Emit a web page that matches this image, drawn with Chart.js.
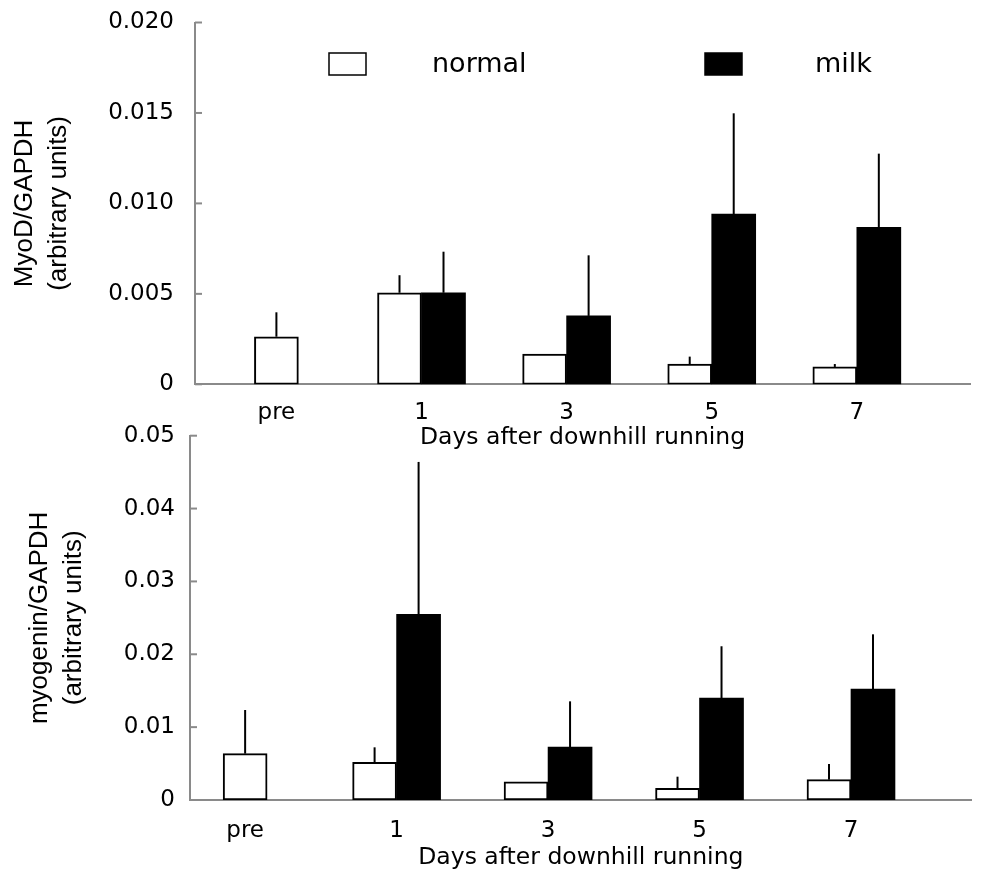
<!DOCTYPE html>
<html>
<head>
<meta charset="utf-8">
<title>MyoD and myogenin after downhill running</title>
<script src="https://cdn.jsdelivr.net/npm/chart.js@4.4.0/dist/chart.umd.min.js"></script>
<style>
    html, body { margin: 0; padding: 0; background: #fff; }
    body { width: 981px; height: 874px; position: relative; overflow: hidden; }
    .panel { position: absolute; left: 0; width: 981px; }
    #top-wrap { top: 0; height: 460px; }
    #bottom-wrap { top: 420px; height: 454px; }
</style>
</head>
<body>
<div class="panel" id="top-wrap"><canvas id="chart-myod" width="981" height="460"></canvas></div>
<div class="panel" id="bottom-wrap"><canvas id="chart-myogenin" width="981" height="454"></canvas></div>
<script>
const days = ['pre', '1', '3', '5', '7'];
const groupNames = ['normal', 'milk'];
const xTitle = 'Days after downhill running';

// MyoD/GAPDH (top panel): means and upward SD
const myodNormal = [0.00263, 0.00506, 0.00167, 0.00112, 0.00096];
const myodNormalSd = [0.00135, 0.00097, 0, 0.00041, 0.00016];
const myodMilk = [null, 0.00506, 0.00378, 0.00941, 0.00868];
const myodMilkSd = [null, 0.00227, 0.00335, 0.00557, 0.00407];

// myogenin/GAPDH (bottom panel)
const myogNormal = [0.00636, 0.00517, 0.00251, 0.0016, 0.00279];
const myogNormalSd = [0.00599, 0.00206, 0, 0.0016, 0.00215];
const myogMilk = [null, 0.02549, 0.00727, 0.014, 0.01523];
const myogMilkSd = [null, 0.02091, 0.00627, 0.0071, 0.00751];

const FONT = 'DejaVu Sans';
const TITLE_FONT = 'Liberation Sans';
const AXIS_GREY = '#8a8a8a';

// upward-only whiskers, no caps
const errorBars = {
    id: 'errorBars',
    afterDatasetsDraw(chart) {
        const { ctx } = chart;
        const yScale = chart.scales.y;
        ctx.save();
        ctx.strokeStyle = '#000';
        ctx.lineWidth = 2;
        chart.data.datasets.forEach((ds, i) => {
            const meta = chart.getDatasetMeta(i);
            meta.data.forEach((bar, j) => {
                const v = ds.data[j].y;
                const sd = ds.sd[j];
                if (v == null || !sd) return;
                ctx.beginPath();
                ctx.moveTo(bar.x, bar.y);
                ctx.lineTo(bar.x, yScale.getPixelForValue(v + sd));
                ctx.stroke();
            });
        });
        ctx.restore();
    }
};

// tick marks pointing into the plot
const innerTicks = {
    id: 'innerTicks',
    afterDraw(chart) {
        const { ctx } = chart;
        const yScale = chart.scales.y;
        ctx.save();
        ctx.strokeStyle = AXIS_GREY;
        ctx.lineWidth = 2;
        yScale.ticks.forEach((t, i) => {
            const py = yScale.getPixelForTick(i);
            ctx.beginPath();
            ctx.moveTo(yScale.right, py);
            ctx.lineTo(yScale.right + 7, py);
            ctx.stroke();
        });
        ctx.restore();
    }
};

const boxLegend = {
    id: 'boxLegend',
    afterDraw(chart, args, opts) {
        if (!opts.items) return;
        const { ctx } = chart;
        ctx.save();
        chart.data.datasets.forEach((ds, i) => {
            const it = opts.items[i];
            ctx.fillStyle = ds.backgroundColor;
            ctx.fillRect(it.boxX, opts.boxY, opts.boxW, opts.boxH);
            ctx.strokeStyle = '#000';
            ctx.lineWidth = 1.5;
            ctx.strokeRect(it.boxX, opts.boxY, opts.boxW, opts.boxH);
            ctx.fillStyle = '#000';
            ctx.font = opts.fontSize + 'px "' + FONT + '"';
            ctx.textBaseline = 'middle';
            ctx.textAlign = 'left';
            ctx.fillText(ds.label, it.textX, opts.boxY + opts.boxH / 2 + 1);
        });
        ctx.restore();
    }
};

function makeChart(id, normal, normalSd, milk, milkSd, cfg) {
    const toPoints = arr => arr.map((v, i) => ({ x: i, y: v }));

    return new Chart(document.getElementById(id), {
        type: 'bar',
        data: {
            datasets: [
                {
                    label: groupNames[0],
                    data: toPoints(normal),
                    sd: normalSd,
                    backgroundColor: '#ffffff',
                    borderColor: '#000000',
                    borderWidth: 2,
                    borderSkipped: false
                },
                {
                    label: groupNames[1],
                    data: toPoints(milk),
                    sd: milkSd,
                    backgroundColor: '#000000',
                    borderColor: '#000000',
                    borderWidth: 0
                }
            ]
        },
        options: {
            responsive: false,
            animation: false,
            skipNull: true,
            barThickness: 44,
            layout: { padding: cfg.padding },
            plugins: {
                legend: { display: false },
                tooltip: { enabled: false },
                boxLegend: cfg.legend || {}
            },
            scales: {
                x: {
                    type: 'linear',
                    min: cfg.xMin,
                    max: cfg.xMax,
                    offset: false,
                    grid: { display: false },
                    border: { color: AXIS_GREY, width: 2 },
                    afterBuildTicks: axis => { axis.ticks = days.map((_, i) => ({ value: i })); },
                    ticks: {
                        color: '#000',
                        font: { family: FONT, size: 23 },
                        padding: cfg.xTickPad,
                        maxRotation: 0,
                        autoSkip: false,
                        callback: v => days[v]
                    },
                    title: {
                        display: true,
                        text: xTitle,
                        color: '#000',
                        font: { family: FONT, size: 23.5, lineHeight: 1.2 },
                        padding: 0
                    },
                    afterFit: s => {
                        s.height = cfg.xHeight;
                        s.paddingLeft = 0;
                        s.paddingRight = 0;
                    }
                },
                y: {
                    min: 0,
                    max: cfg.yMax,
                    grid: { display: false },
                    border: { color: AXIS_GREY, width: 2 },
                    ticks: {
                        stepSize: cfg.yStep,
                        color: '#000',
                        font: { family: FONT, size: 23 },
                        padding: cfg.yTickPad,
                        callback: v => (Math.abs(v) < 1e-9 ? '0' : v.toFixed(cfg.decimals))
                    },
                    title: {
                        display: true,
                        text: cfg.yTitle,
                        color: '#000',
                        font: { family: TITLE_FONT, size: 26, lineHeight: 1.3 },
                        padding: { top: cfg.yTitlePad, bottom: 0 }
                    },
                    afterFit: s => {
                        s.width = cfg.yWidth;
                        s.paddingTop = 0;
                        s.paddingBottom = 0;
                    }
                }
            }
        },
        plugins: [errorBars, innerTicks, boxLegend]
    });
}

makeChart('chart-myod', myodNormal, myodNormalSd, myodMilk, myodMilkSd, {
    padding: { top: 22.5, left: 0, right: 11, bottom: 8.2 },
    xMin: -0.561, xMax: 4.78,
    xHeight: 67.5, xTickPad: 7,
    yMax: 0.02, yStep: 0.005, decimals: 3,
    yWidth: 195, yTickPad: 13, yTitlePad: 8,
    yTitle: ['MyoD/GAPDH', '(arbitrary units)'],
    legend: {
        boxY: 53, boxW: 37, boxH: 22, fontSize: 27,
        items: [{ boxX: 329, textX: 432 }, { boxX: 705, textX: 815 }]
    }
});

makeChart('chart-myogenin', myogNormal, myogNormalSd, myogMilk, myogMilkSd, {
    padding: { top: 15.7, left: 0, right: 9.3, bottom: 2.2 },
    xMin: -0.364, xMax: 4.797,
    xHeight: 71.8, xTickPad: 9,
    yMax: 0.05, yStep: 0.01, decimals: 2,
    yWidth: 190, yTickPad: 7, yTitlePad: 23,
    yTitle: ['myogenin/GAPDH', '(arbitrary units)']
});
</script>
</body>
</html>
